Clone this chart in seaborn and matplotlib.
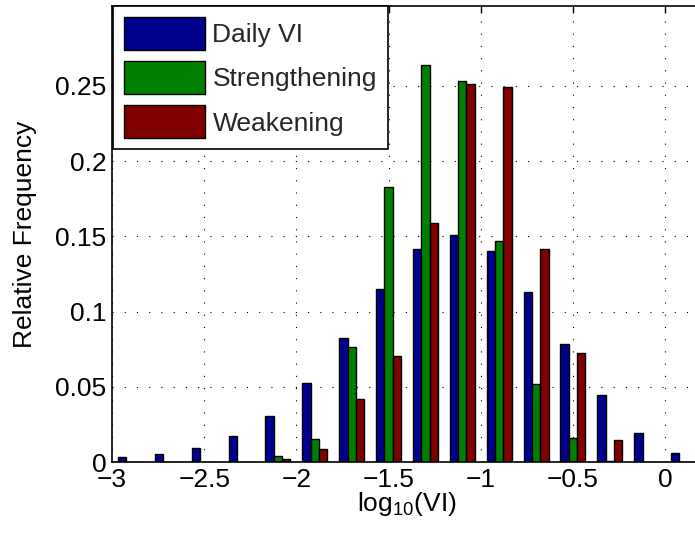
import numpy as np
import pandas as pd
import matplotlib
matplotlib.use("Agg")
import matplotlib.pyplot as plt
import seaborn as sns
from matplotlib.patches import Patch

# Bin centres of log10(VI) and relative frequency per group
bin_centers = [-2.9, -2.7, -2.5, -2.3, -2.1, -1.9, -1.7, -1.5,
               -1.3, -1.1, -0.9, -0.7, -0.5, -0.3, -0.1, 0.1]
daily_vi = [0.003, 0.005, 0.0093, 0.0173, 0.0308, 0.0523, 0.0822, 0.1152,
            0.1418, 0.1509, 0.1401, 0.1132, 0.0782, 0.0443, 0.0195, 0.0058]
strengthening = [0.0, 0.0, 0.0, 0.0, 0.0042, 0.0151, 0.0763, 0.1824,
                 0.2637, 0.2529, 0.1471, 0.0521, 0.0157, 0.0007, 0.0, 0.0]
weakening = [0.0, 0.0, 0.0, 0.0, 0.0018, 0.0086, 0.0419, 0.0703,
             0.1591, 0.2509, 0.2493, 0.1416, 0.0723, 0.0146, 0.0, 0.0]
series_names = ["Daily VI", "Strengthening", "Weakening"]
colors = ["#00008F", "#008000", "#800000"]

x_ticks = [-3, -2.5, -2, -1.5, -1, -0.5, 0]
x_ticklabels = ["\u22123", "\u22122.5", "\u22122", "\u22121.5", "\u22121", "\u22120.5", "0"]
y_ticks = [0, 0.05, 0.1, 0.15, 0.2, 0.25]
y_ticklabels = ["0", "0.05", "0.1", "0.15", "0.2", "0.25"]

df = pd.DataFrame({
    "center": bin_centers * 3,
    "freq": daily_vi + strengthening + weakening,
    "series": [s for s in series_names for _ in bin_centers],
})

sns.set_theme(style="white")
plt.rcParams["font.family"] = ["Liberation Sans", "DejaVu Sans"]
plt.rcParams["mathtext.default"] = "regular"
plt.rcParams["axes.unicode_minus"] = True

FS = 19

fig = plt.figure(figsize=(6.95, 5.35), dpi=100)
ax = fig.add_axes([112 / 695, 73 / 535, 590 / 695, 456 / 535])

sns.barplot(data=df, x="center", y="freq", hue="series", hue_order=series_names,
            palette=colors, native_scale=True, width=0.675, gap=0,
            edgecolor="black", linewidth=1.0, errorbar=None, ax=ax,
            legend=False, saturation=1)

ax.set_xlim(-3, 0.2)
ax.set_ylim(0, 0.303)
ax.set_xticks(x_ticks)
ax.set_xticklabels(x_ticklabels)
ax.set_yticks(y_ticks)
ax.set_yticklabels(y_ticklabels)
ax.tick_params(axis="both", direction="in", length=5, width=1, labelsize=FS,
               color="black", labelcolor="black", top=True, right=True, pad=4)
ax.grid(True, color="black", linestyle=(0, (1, 10)), linewidth=0.8)
ax.set_axisbelow(True)
for sp in ax.spines.values():
    sp.set_color("black")
    sp.set_linewidth(1.2)

ax.set_xlabel("log$_{10}$(VI)", fontsize=FS, color="black", labelpad=-1)
ax.set_ylabel("Relative Frequency", fontsize=FS, color="black", labelpad=13)

handles = [Patch(facecolor=c, edgecolor="black", linewidth=1.0) for c in colors]
leg = ax.legend(handles, series_names, loc="upper left", bbox_to_anchor=(0.002, 1.0),
                borderaxespad=0, fontsize=FS, frameon=True, fancybox=False,
                framealpha=1, edgecolor="black", handlelength=3.07,
                handleheight=1.55, labelspacing=0.42, handletextpad=0.27,
                borderpad=0.42)
leg.get_frame().set_linewidth(1.2)

fig.savefig("out.png", dpi=100)
